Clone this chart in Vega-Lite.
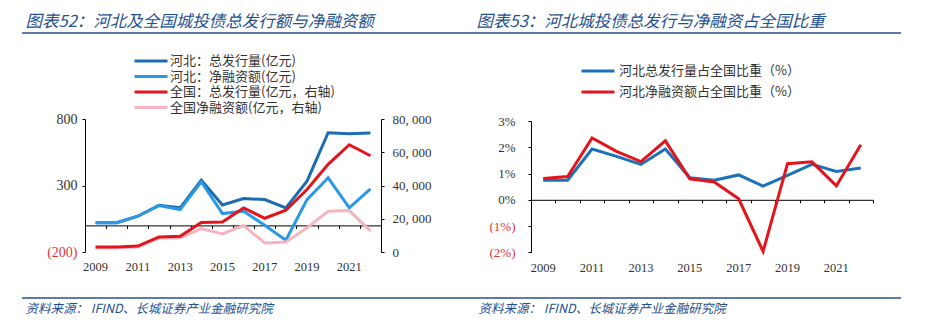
{
  "$schema": "https://vega.github.io/schema/vega-lite/v6.json",
  "width": 927,
  "height": 327,
  "autosize": {"type": "none"},
  "padding": 0,
  "config": {
    "view": {"stroke": null},
    "axis": {"labelFont": "Liberation Serif", "labelFontSize": 13, "labelColor": "#333333", "grid": false, "domainColor": "#000000", "tickColor": "#000000", "titleFont": "Noto Sans CJK SC"},
    "legend": {"labelFont": "Noto Sans CJK SC", "labelFontSize": 13, "labelColor": "#333333", "labelLimit": 0}
  },
  "datasets": {
    "left": [
      {"year": "2009", "series": "河北：总发行量(亿元)", "value": 20},
      {"year": "2010", "series": "河北：总发行量(亿元)", "value": 20},
      {"year": "2011", "series": "河北：总发行量(亿元)", "value": 69},
      {"year": "2012", "series": "河北：总发行量(亿元)", "value": 152},
      {"year": "2013", "series": "河北：总发行量(亿元)", "value": 132},
      {"year": "2014", "series": "河北：总发行量(亿元)", "value": 340},
      {"year": "2015", "series": "河北：总发行量(亿元)", "value": 154},
      {"year": "2016", "series": "河北：总发行量(亿元)", "value": 202},
      {"year": "2017", "series": "河北：总发行量(亿元)", "value": 194},
      {"year": "2018", "series": "河北：总发行量(亿元)", "value": 132},
      {"year": "2019", "series": "河北：总发行量(亿元)", "value": 333},
      {"year": "2020", "series": "河北：总发行量(亿元)", "value": 697},
      {"year": "2021", "series": "河北：总发行量(亿元)", "value": 689},
      {"year": "2022", "series": "河北：总发行量(亿元)", "value": 694},
      {"year": "2009", "series": "河北：净融资额(亿元)", "value": 20},
      {"year": "2010", "series": "河北：净融资额(亿元)", "value": 20},
      {"year": "2011", "series": "河北：净融资额(亿元)", "value": 69},
      {"year": "2012", "series": "河北：净融资额(亿元)", "value": 149},
      {"year": "2013", "series": "河北：净融资额(亿元)", "value": 119},
      {"year": "2014", "series": "河北：净融资额(亿元)", "value": 328},
      {"year": "2015", "series": "河北：净融资额(亿元)", "value": 89},
      {"year": "2016", "series": "河北：净融资额(亿元)", "value": 107},
      {"year": "2017", "series": "河北：净融资额(亿元)", "value": 1},
      {"year": "2018", "series": "河北：净融资额(亿元)", "value": -112},
      {"year": "2019", "series": "河北：净融资额(亿元)", "value": 194},
      {"year": "2020", "series": "河北：净融资额(亿元)", "value": 358},
      {"year": "2021", "series": "河北：净融资额(亿元)", "value": 132},
      {"year": "2022", "series": "河北：净融资额(亿元)", "value": 275},
      {"year": "2009", "series": "全国：总发行量(亿元，右轴)", "value": 3015},
      {"year": "2010", "series": "全国：总发行量(亿元，右轴)", "value": 3000},
      {"year": "2011", "series": "全国：总发行量(亿元，右轴)", "value": 3600},
      {"year": "2012", "series": "全国：总发行量(亿元，右轴)", "value": 9045},
      {"year": "2013", "series": "全国：总发行量(亿元，右轴)", "value": 9450},
      {"year": "2014", "series": "全国：总发行量(亿元，右轴)", "value": 17700},
      {"year": "2015", "series": "全国：总发行量(亿元，右轴)", "value": 18100},
      {"year": "2016", "series": "全国：总发行量(亿元，右轴)", "value": 26500},
      {"year": "2017", "series": "全国：总发行量(亿元，右轴)", "value": 20300},
      {"year": "2018", "series": "全国：总发行量(亿元，右轴)", "value": 25100},
      {"year": "2019", "series": "全国：总发行量(亿元，右轴)", "value": 37600},
      {"year": "2020", "series": "全国：总发行量(亿元，右轴)", "value": 52700},
      {"year": "2021", "series": "全国：总发行量(亿元，右轴)", "value": 64500},
      {"year": "2022", "series": "全国：总发行量(亿元，右轴)", "value": 57900},
      {"year": "2009", "series": "全国净融资额(亿元，右轴)", "value": 2600},
      {"year": "2010", "series": "全国净融资额(亿元，右轴)", "value": 2600},
      {"year": "2011", "series": "全国净融资额(亿元，右轴)", "value": 3000},
      {"year": "2012", "series": "全国净融资额(亿元，右轴)", "value": 8400},
      {"year": "2013", "series": "全国净融资额(亿元，右轴)", "value": 8400},
      {"year": "2014", "series": "全国净融资额(亿元，右轴)", "value": 14100},
      {"year": "2015", "series": "全国净融资额(亿元，右轴)", "value": 10900},
      {"year": "2016", "series": "全国净融资额(亿元，右轴)", "value": 15900},
      {"year": "2017", "series": "全国净融资额(亿元，右轴)", "value": 5400},
      {"year": "2018", "series": "全国净融资额(亿元，右轴)", "value": 6000},
      {"year": "2019", "series": "全国净融资额(亿元，右轴)", "value": 14500},
      {"year": "2020", "series": "全国净融资额(亿元，右轴)", "value": 24500},
      {"year": "2021", "series": "全国净融资额(亿元，右轴)", "value": 24900},
      {"year": "2022", "series": "全国净融资额(亿元，右轴)", "value": 12700}
    ],
    "right": [
      {"year": "2009", "series": "河北总发行量占全国比重（%）", "value": 0.75},
      {"year": "2010", "series": "河北总发行量占全国比重（%）", "value": 0.75},
      {"year": "2011", "series": "河北总发行量占全国比重（%）", "value": 1.94},
      {"year": "2012", "series": "河北总发行量占全国比重（%）", "value": 1.66},
      {"year": "2013", "series": "河北总发行量占全国比重（%）", "value": 1.35},
      {"year": "2014", "series": "河北总发行量占全国比重（%）", "value": 1.94},
      {"year": "2015", "series": "河北总发行量占全国比重（%）", "value": 0.84},
      {"year": "2016", "series": "河北总发行量占全国比重（%）", "value": 0.75},
      {"year": "2017", "series": "河北总发行量占全国比重（%）", "value": 0.95},
      {"year": "2018", "series": "河北总发行量占全国比重（%）", "value": 0.52},
      {"year": "2019", "series": "河北总发行量占全国比重（%）", "value": 0.93},
      {"year": "2020", "series": "河北总发行量占全国比重（%）", "value": 1.35},
      {"year": "2021", "series": "河北总发行量占全国比重（%）", "value": 1.08},
      {"year": "2022", "series": "河北总发行量占全国比重（%）", "value": 1.21},
      {"year": "2009", "series": "河北净融资额占全国比重（%）", "value": 0.81},
      {"year": "2010", "series": "河北净融资额占全国比重（%）", "value": 0.89},
      {"year": "2011", "series": "河北净融资额占全国比重（%）", "value": 2.36},
      {"year": "2012", "series": "河北净融资额占全国比重（%）", "value": 1.85},
      {"year": "2013", "series": "河北净融资额占全国比重（%）", "value": 1.46},
      {"year": "2014", "series": "河北净融资额占全国比重（%）", "value": 2.25},
      {"year": "2015", "series": "河北净融资额占全国比重（%）", "value": 0.80},
      {"year": "2016", "series": "河北净融资额占全国比重（%）", "value": 0.68},
      {"year": "2017", "series": "河北净融资额占全国比重（%）", "value": 0.04},
      {"year": "2018", "series": "河北净融资额占全国比重（%）", "value": -1.97},
      {"year": "2019", "series": "河北净融资额占全国比重（%）", "value": 1.38},
      {"year": "2020", "series": "河北净融资额占全国比重（%）", "value": 1.45},
      {"year": "2021", "series": "河北净融资额占全国比重（%）", "value": 0.53},
      {"year": "2022", "series": "河北净融资额占全国比重（%）", "value": 2.10}
    ]
  },
  "layer": [
    {
      "data": {"name": "left"},
      "layer": [
        {
          "encoding": {
            "x": {"field": "year", "type": "ordinal", "bandPosition": 0.5,
              "scale": {"type": "band", "domain": ["2009","2010","2011","2012","2013","2014","2015","2016","2017","2018","2019","2020","2021","2022"], "range": [85, 381], "paddingInner": 0, "paddingOuter": 0},
              "axis": {"orient": "bottom", "offset": -75, "values": ["2009","2011","2013","2015","2017","2019","2021"], "domain": false, "ticks": false, "labelPadding": 8, "labelAngle": 0, "labelFontSize": 12.5, "title": null}},
            "y": {"field": "value", "type": "quantitative",
              "scale": {"domain": [-200, 800], "range": [252, 119], "nice": false, "zero": false},
              "axis": {"orient": "left", "offset": -85, "values": [-200, 300, 800], "tickSize": 3, "labelPadding": 5, "labelFontSize": 14, "title": null,
                "labelExpr": "datum.value < 0 ? '(' + abs(datum.value) + ')' : datum.label",
                "labelColor": {"condition": {"test": "datum.value < 0", "value": "#e0343c"}, "value": "#333333"}}},
            "color": {"field": "series", "type": "nominal",
              "scale": {"domain": ["河北：总发行量(亿元)", "河北：净融资额(亿元)", "全国：总发行量(亿元，右轴)", "全国净融资额(亿元，右轴)"], "range": ["#1b6db3", "#2a98e4", "#e4141c", "#f5b4be"]},
              "legend": {"orient": "none", "legendX": 144, "legendY": 54, "title": null, "padding": 0, "symbolType": "M-3,0H3", "symbolSize": 121, "symbolStrokeWidth": 3, "labelOffset": 12, "rowPadding": 1.5}}
          },
          "layer": [
            {"transform": [{"filter": "datum.series === '河北：总发行量(亿元)'"}], "mark": {"type": "line", "strokeWidth": 3}},
            {"transform": [{"filter": "datum.series === '河北：净融资额(亿元)'"}], "mark": {"type": "line", "strokeWidth": 3}}
          ]
        },
        {
          "encoding": {
            "x": {"field": "year", "type": "ordinal", "bandPosition": 0.5,
              "scale": {"type": "band", "domain": ["2009","2010","2011","2012","2013","2014","2015","2016","2017","2018","2019","2020","2021","2022"], "range": [85, 381], "paddingInner": 0, "paddingOuter": 0},
              "axis": {"orient": "bottom", "offset": -101.6, "labels": false, "ticks": true, "tickBand": "extent", "tickSize": 3, "domain": true, "title": null}},
            "y": {"field": "value", "type": "quantitative",
              "scale": {"domain": [0, 80000], "range": [252, 119], "nice": false, "zero": false},
              "axis": {"orient": "right", "offset": -546, "values": [0, 20000, 40000, 60000, 80000], "format": ",d", "labelExpr": "replace(datum.label, ',', ', ')", "tickSize": 3, "labelPadding": 8, "title": null}},
            "color": {"field": "series", "type": "nominal",
              "scale": {"domain": ["河北：总发行量(亿元)", "河北：净融资额(亿元)", "全国：总发行量(亿元，右轴)", "全国净融资额(亿元，右轴)"], "range": ["#1b6db3", "#2a98e4", "#e4141c", "#f5b4be"]},
              "legend": {"orient": "none", "legendX": 144, "legendY": 54, "title": null, "padding": 0, "symbolType": "M-3,0H3", "symbolSize": 121, "symbolStrokeWidth": 3, "labelOffset": 12, "rowPadding": 1.5}}
          },
          "layer": [
            {"transform": [{"filter": "datum.series === '全国净融资额(亿元，右轴)'"}], "mark": {"type": "line", "strokeWidth": 3}},
            {"transform": [{"filter": "datum.series === '全国：总发行量(亿元，右轴)'"}], "mark": {"type": "line", "strokeWidth": 3}}
          ]
        }
      ],
      "resolve": {"scale": {"x": "independent", "y": "independent"}}
    },
    {
      "data": {"name": "right"},
      "layer": [
        {
          "transform": [{"filter": "datum.series === '河北总发行量占全国比重（%）'"}],
          "mark": {"type": "line", "strokeWidth": 3},
          "encoding": {
            "x": {"field": "year", "type": "ordinal", "bandPosition": 0.5,
              "scale": {"type": "band", "domain": ["2009","2010","2011","2012","2013","2014","2015","2016","2017","2018","2019","2020","2021","2022"], "range": [531, 873], "paddingInner": 0, "paddingOuter": 0},
              "axis": {"orient": "bottom", "offset": -74.8, "values": ["2009","2011","2013","2015","2017","2019","2021"], "domain": false, "ticks": false, "labelPadding": 9, "labelAngle": 0, "labelFontSize": 12.5, "title": null}},
            "y": {"field": "value", "type": "quantitative",
              "scale": {"domain": [-2, 3], "range": [252.2, 121.2], "nice": false, "zero": false},
              "axis": {"orient": "left", "offset": -531, "values": [-2, -1, 0, 1, 2, 3], "tickSize": 3, "labelPadding": 13, "title": null,
                "labelExpr": "datum.value < 0 ? '(' + abs(datum.value) + '%)' : datum.value + '%'",
                "labelColor": {"condition": {"test": "datum.value < 0", "value": "#e0343c"}, "value": "#333333"}}},
            "color": {"field": "series", "type": "nominal",
              "scale": {"domain": ["河北总发行量占全国比重（%）", "河北净融资额占全国比重（%）"], "range": ["#1b72b8", "#e4141c"]},
              "legend": {"orient": "none", "legendX": 591, "legendY": 64, "title": null, "padding": 0, "symbolType": "M-3,0H3", "symbolSize": 121, "symbolStrokeWidth": 3, "labelOffset": 14, "rowPadding": 7}}
          }
        },
        {
          "transform": [{"filter": "datum.series === '河北净融资额占全国比重（%）'"}],
          "mark": {"type": "line", "strokeWidth": 3},
          "encoding": {
            "x": {"field": "year", "type": "ordinal", "bandPosition": 0.5,
              "scale": {"type": "band", "domain": ["2009","2010","2011","2012","2013","2014","2015","2016","2017","2018","2019","2020","2021","2022"], "range": [531, 873], "paddingInner": 0, "paddingOuter": 0},
              "axis": {"orient": "bottom", "offset": -127.2, "labels": false, "ticks": true, "tickBand": "extent", "tickSize": 3, "domain": true, "title": null}},
            "y": {"field": "value", "type": "quantitative",
              "scale": {"domain": [-2, 3], "range": [252.2, 121.2], "nice": false, "zero": false},
              "axis": null},
            "color": {"field": "series", "type": "nominal",
              "scale": {"domain": ["河北总发行量占全国比重（%）", "河北净融资额占全国比重（%）"], "range": ["#1b72b8", "#e4141c"]},
              "legend": {"orient": "none", "legendX": 591, "legendY": 64, "title": null, "padding": 0, "symbolType": "M-3,0H3", "symbolSize": 121, "symbolStrokeWidth": 3, "labelOffset": 14, "rowPadding": 7}}
          }
        }
      ],
      "resolve": {"scale": {"x": "independent", "y": "independent"}}
    },
    {
      "data": {"values": [{"k": 0}]},
      "mark": {"type": "rule", "color": "#24508f", "strokeWidth": 1.5},
      "encoding": {
        "x": {"datum": 0, "type": "quantitative",
          "scale": {"domain": [0, 1], "range": [22, 901], "nice": false, "zero": false},
          "axis": {"orient": "top", "offset": 0, "domain": false, "ticks": false, "labels": false, "grid": false,
            "title": "图表52：河北及全国城投债总发行额与净融资额", "titleX": 25, "titleY": 21, "titleAlign": "left", "titleBaseline": "middle", "titleAngle": 0,
            "titleFont": "Noto Sans CJK SC", "titleFontSize": 16.5, "titleFontStyle": "italic", "titleFontWeight": "normal", "titleColor": "#24508f"}},
        "x2": {"datum": 1},
        "y": {"datum": 1, "type": "quantitative",
          "scale": {"domain": [0, 1], "range": [298, 33], "nice": false, "zero": false},
          "axis": {"orient": "left", "offset": 0, "domain": false, "ticks": false, "labels": false, "grid": false,
            "title": "图表53：河北城投债总发行与净融资占全国比重", "titleX": 476, "titleY": 21, "titleAlign": "left", "titleBaseline": "middle", "titleAngle": 0,
            "titleFont": "Noto Sans CJK SC", "titleFontSize": 16.5, "titleFontStyle": "italic", "titleFontWeight": "normal", "titleColor": "#24508f"}}
      }
    },
    {
      "data": {"values": [{"k": 0}]},
      "mark": {"type": "rule", "color": "#24508f", "strokeWidth": 1.5},
      "encoding": {
        "x": {"datum": 0, "type": "quantitative",
          "scale": {"domain": [0, 1], "range": [22, 901], "nice": false, "zero": false},
          "axis": {"orient": "bottom", "offset": 0, "domain": false, "ticks": false, "labels": false, "grid": false,
            "title": "资料来源：  IFIND、长城证券产业金融研究院", "titleX": 25, "titleY": -19, "titleAlign": "left", "titleBaseline": "middle", "titleAngle": 0,
            "titleFont": "Noto Sans CJK SC", "titleFontSize": 12.5, "titleFontStyle": "italic", "titleFontWeight": "normal", "titleColor": "#24508f"}},
        "x2": {"datum": 1},
        "y": {"datum": 0, "type": "quantitative",
          "scale": {"domain": [0, 1], "range": [298, 33], "nice": false, "zero": false},
          "axis": {"orient": "left", "offset": 0, "domain": false, "ticks": false, "labels": false, "grid": false,
            "title": "资料来源：  IFIND、长城证券产业金融研究院", "titleX": 478, "titleY": 308, "titleAlign": "left", "titleBaseline": "middle", "titleAngle": 0,
            "titleFont": "Noto Sans CJK SC", "titleFontSize": 12.5, "titleFontStyle": "italic", "titleFontWeight": "normal", "titleColor": "#24508f"}}
      }
    }
  ],
  "resolve": {"scale": {"x": "independent", "y": "independent", "color": "independent"}}
}
